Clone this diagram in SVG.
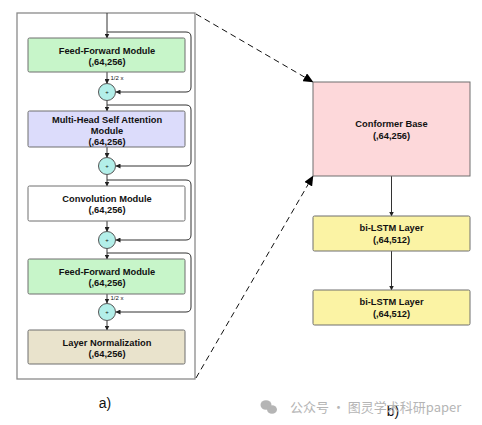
<svg xmlns="http://www.w3.org/2000/svg" width="482" height="425" viewBox="0 0 482 425">
<style>
.box{stroke:#6f6f6f;stroke-width:1}
.t{font-family:"Liberation Sans",Arial,sans-serif;font-weight:bold;font-size:9.3px;fill:#111;text-anchor:middle}
.s{font-family:"Liberation Sans",Arial,sans-serif;font-size:6px;fill:#111}
.ln{fill:none;stroke:#333;stroke-width:1}
.dash{fill:none;stroke:#111;stroke-width:1;stroke-dasharray:6,4}
.add{fill:#b3efe9;stroke:#555;stroke-width:1}
.lbl{font-family:"Liberation Sans",Arial,sans-serif;font-size:14px;fill:#111;text-anchor:middle}
</style>
<defs>
<marker id="a" markerWidth="5" markerHeight="5" refX="4.5" refY="2.5" orient="auto" markerUnits="userSpaceOnUse"><path d="M0,0 L5,2.5 L0,5 Z" fill="#222"/></marker>
<marker id="b" markerWidth="10" markerHeight="9" refX="9.5" refY="4.5" orient="auto" markerUnits="userSpaceOnUse"><path d="M0,0 L10,4.5 L0,9 Z" fill="#000"/></marker>
</defs>
<rect width="482" height="425" fill="#fff"/>
<rect id="frame" x="17" y="13" width="178" height="366" fill="#fff" stroke="#8a8a8a" stroke-width="1.3"/>
<g id="connectors">
<path class="ln" d="M107,13 V38" marker-end="url(#a)"/>
<path class="ln" d="M107,72 V83.5" marker-end="url(#a)"/>
<path class="ln" d="M107,100.5 V111" marker-end="url(#a)"/>
<path class="ln" d="M107,147 V157.5" marker-end="url(#a)"/>
<path class="ln" d="M107,174.5 V186" marker-end="url(#a)"/>
<path class="ln" d="M107,221 V231.5" marker-end="url(#a)"/>
<path class="ln" d="M107,248.5 V259" marker-end="url(#a)"/>
<path class="ln" d="M107,294 V303" marker-end="url(#a)"/>
<path class="ln" d="M107,320.5 V330" marker-end="url(#a)"/>
<path class="ln" d="M107,32 H186 Q191,32 191,37 V87 Q191,92 186,92 H116" marker-end="url(#a)"/>
<path class="ln" d="M107,105 H186 Q191,105 191,110 V161 Q191,166 186,166 H116" marker-end="url(#a)"/>
<path class="ln" d="M107,180 H186 Q191,180 191,185 V235 Q191,240 186,240 H116" marker-end="url(#a)"/>
<path class="ln" d="M107,253 H186 Q191,253 191,258 V307 Q191,312 186,312 H116" marker-end="url(#a)"/>
<path class="ln" d="M391.5,176 V216" marker-end="url(#a)"/>
<path class="ln" d="M391.5,251 V290" marker-end="url(#a)"/>
<path class="dash" d="M196,14 L313,82" marker-end="url(#b)"/>
<path class="dash" d="M196,378 L313,176" marker-end="url(#b)"/>
</g>
<g id="ff1"><rect class="box" x="28" y="38" width="157" height="34" rx="1.5" fill="#c7f5c9"/><text class="t" x="107" y="53.5">Feed-Forward Module</text><text class="t" x="107" y="65">(,64,256)</text></g>
<text class="s" x="110.5" y="80">1/2 x</text>
<g id="add1"><circle class="add" cx="107" cy="92" r="8.5"/><text class="s" x="107" y="94" text-anchor="middle">+</text></g>
<g id="mhsa"><rect class="box" x="28" y="111" width="157" height="36" rx="1.5" fill="#dcdcfb"/><text class="t" x="107" y="122.5">Multi-Head Self Attention</text><text class="t" x="107" y="133.5">Module</text><text class="t" x="107" y="144.5">(,64,256)</text></g>
<g id="add2"><circle class="add" cx="107" cy="166" r="8.5"/><text class="s" x="107" y="168" text-anchor="middle">+</text></g>
<g id="conv"><rect class="box" x="28" y="186" width="157" height="35" rx="1.5" fill="#fff"/><text class="t" x="107" y="201.5">Convolution Module</text><text class="t" x="107" y="213">(,64,256)</text></g>
<g id="add3"><circle class="add" cx="107" cy="240" r="8.5"/><text class="s" x="107" y="242" text-anchor="middle">+</text></g>
<g id="ff2"><rect class="box" x="28" y="259" width="157" height="35" rx="1.5" fill="#c7f5c9"/><text class="t" x="107" y="274.5">Feed-Forward Module</text><text class="t" x="107" y="286">(,64,256)</text></g>
<text class="s" x="110.5" y="300">1/2 x</text>
<g id="add4"><circle class="add" cx="107" cy="312" r="8.5"/><text class="s" x="107" y="314" text-anchor="middle">+</text></g>
<g id="ln"><rect class="box" x="28" y="330" width="157" height="34" rx="1.5" fill="#e9e3cc"/><text class="t" x="107" y="345.5">Layer Normalization</text><text class="t" x="107" y="357">(,64,256)</text></g>
<g id="conformer"><rect class="box" x="313" y="82" width="157" height="94" fill="#fdd8da"/><text class="t" x="391.5" y="127">Conformer Base</text><text class="t" x="391.5" y="139">(,64,256)</text></g>
<g id="lstm1"><rect class="box" x="313" y="216" width="157" height="35" rx="1.5" fill="#fbf3a4"/><text class="t" x="391.5" y="231">bi-LSTM Layer</text><text class="t" x="391.5" y="242.5">(,64,512)</text></g>
<g id="lstm2"><rect class="box" x="313" y="290" width="157" height="35" rx="1.5" fill="#fbf3a4"/><text class="t" x="391.5" y="305">bi-LSTM Layer</text><text class="t" x="391.5" y="316.5">(,64,512)</text></g>
<text class="lbl" x="105" y="408">a)</text>
<text class="lbl" x="393" y="416">b)</text>
<g id="watermark" fill="#b5b5b5">
<ellipse cx="266" cy="405" rx="5.5" ry="4.8"/>
<ellipse cx="272" cy="409.5" rx="5" ry="4.3"/>
<text x="290" y="412" font-family="'Noto Sans CJK SC',sans-serif" font-size="13">公众号 · 图灵学术科研paper</text>
</g>
</svg>
